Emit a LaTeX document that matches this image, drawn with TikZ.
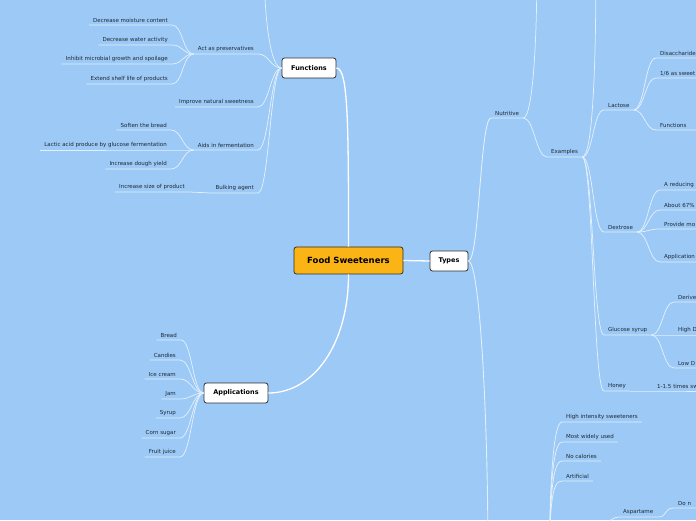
\documentclass[tikz,border=0pt]{standalone}
\usepackage{fontspec}
\setmainfont{DejaVu Sans}
\definecolor{Sky}{HTML}{9CC9F5}
\definecolor{Twig}{HTML}{E2EFFC}
\definecolor{Ink}{HTML}{1E2834}
\definecolor{Edge}{HTML}{2E2E2E}
\definecolor{Gold}{HTML}{FBB416}

\begin{document}
\begin{tikzpicture}[x=1pt,y=1pt,
  topic/.style={draw=Edge,line width=.8pt,fill=white,rounded corners=2.5pt,
    font=\fontsize{6.5}{8}\selectfont\bfseries,text=black,inner sep=0pt,minimum height=20pt},
  leaf/.style={font=\fontsize{5.5}{6.5}\selectfont,text=Ink,inner xsep=4pt,inner ysep=2pt},
  cut/.style={text width=60pt,align=left},
  trunk/.style={draw=white,line width=1.3pt},
  twig/.style={draw=Twig,line width=.75pt},
  toright/.style={out=0,in=180,out distance=11pt,in distance=11pt},
  toleft/.style={out=180,in=0,out distance=11pt,in distance=11pt}]
  \clip (0,0) rectangle (696,520);
  \fill[Sky] (0,0) rectangle (696,520);

  % Central topic and main branches.
  \node[topic,fill=Gold,minimum width=109pt,minimum height=27pt,
    font=\fontsize{8.5}{10}\selectfont\bfseries] (root) at (348.5,259.5) {Food Sweeteners};
  \node[topic,minimum width=38pt] (types) at (449,259) {Types};
  \node[topic,minimum width=54pt] (funcs) at (309,452) {Functions};
  \node[topic,minimum width=64pt] (apps) at (236,127) {Applications};
  \draw[trunk] (root.east) -- (types.west);
  \draw[trunk] (root.north) to[out=90,in=0,out distance=120pt,in distance=12pt] (funcs.east);
  \draw[trunk] (root.south) to[out=270,in=0,out distance=70pt,in distance=45pt] (apps.east);

  % Functions.
  \node[leaf,anchor=south east] (pres) at (258,466) {Act as preservatives};
  \node[leaf,anchor=south east] (moist) at (172,495) {Decrease moisture content};
  \node[leaf,anchor=south east] (water) at (172,475) {Decrease water activity};
  \node[leaf,anchor=south east] (microb) at (172,456) {Inhibit microbial growth and spoilage};
  \node[leaf,anchor=south east] (shelf) at (172,436) {Extend shelf life of products};
  \node[leaf,anchor=south east] (natsw) at (258,413) {Improve natural sweetness};
  \node[leaf,anchor=south east] (ferm) at (258,370) {Aids in fermentation};
  \node[leaf,anchor=south east] (soften) at (171,390) {Soften the bread};
  \node[leaf,anchor=south east] (lactic) at (171,370) {Lactic acid produce by glucose fermentation};
  \node[leaf,anchor=south east] (dough) at (171,351) {Increase dough yield};
  \node[leaf,anchor=south east] (bulk) at (258,327) {Bulking agent};
  \node[leaf,anchor=south east] (size) at (189,328) {Increase size of product};
  \coordinate (funcsup) at (264,560);
  \draw[twig] (funcs.west) to[out=180,in=270,out distance=11pt,in distance=60pt] (funcsup);
  \draw[twig] (funcs.west) to[toleft] (pres.south east) -- (pres.south west);
  \draw[twig] (funcs.west) to[toleft] (natsw.south east) -- (natsw.south west);
  \draw[twig] (funcs.west) to[toleft] (ferm.south east) -- (ferm.south west);
  \draw[twig] (funcs.west) to[toleft] (bulk.south east) -- (bulk.south west);
  \draw[twig] (pres.south west) to[toleft] (moist.south east) -- (moist.south west);
  \draw[twig] (pres.south west) to[toleft] (water.south east) -- (water.south west);
  \draw[twig] (pres.south west) to[toleft] (microb.south east) -- (microb.south west);
  \draw[twig] (pres.south west) to[toleft] (shelf.south east) -- (shelf.south west);
  \draw[twig] (ferm.south west) to[toleft] (soften.south east) -- (soften.south west);
  \draw[twig] (ferm.south west) to[toleft] (lactic.south east) -- (lactic.south west);
  \draw[twig] (ferm.south west) to[toleft] (dough.south east) -- (dough.south west);
  \draw[twig] (bulk.south west) to[toleft] (size.south east) -- (size.south west);

  % Applications.
  \node[leaf,anchor=south east] (bread) at (181,180) {Bread};
  \node[leaf,anchor=south east] (candy) at (180,160) {Candies};
  \node[leaf,anchor=south east] (icecr) at (180,141) {Ice cream};
  \node[leaf,anchor=south east] (jam) at (180,121) {Jam};
  \node[leaf,anchor=south east] (syrup) at (180,102) {Syrup};
  \node[leaf,anchor=south east] (corn) at (180,82) {Corn sugar};
  \node[leaf,anchor=south east] (juice) at (180,63) {Fruit juice};
  \draw[twig] (apps.west) to[toleft] (bread.south east) -- (bread.south west);
  \draw[twig] (apps.west) to[toleft] (candy.south east) -- (candy.south west);
  \draw[twig] (apps.west) to[toleft] (icecr.south east) -- (icecr.south west);
  \draw[twig] (apps.west) to[toleft] (jam.south east) -- (jam.south west);
  \draw[twig] (apps.west) to[toleft] (syrup.south east) -- (syrup.south west);
  \draw[twig] (apps.west) to[toleft] (corn.south east) -- (corn.south west);
  \draw[twig] (apps.west) to[toleft] (juice.south east) -- (juice.south west);

  % Types: nutritive side.
  \node[leaf,anchor=south west] (nutri) at (491,402) {Nutritive};
  \node[leaf,anchor=south west] (exam) at (547,363) {Examples};
  \node[leaf,anchor=south west] (lact) at (604,410) {Lactose};
  \node[leaf,anchor=south west] (dext) at (604,288) {Dextrose};
  \node[leaf,anchor=south west] (gluc) at (604,185) {Glucose syrup};
  \node[leaf,anchor=south west] (honey) at (604,129) {Honey};
  \node[leaf,cut,anchor=south west] (disac) at (656,462) {Disaccharide};
  \node[leaf,cut,anchor=south west] (sixth) at (656,442) {1/6 as sweet};
  \node[leaf,cut,anchor=south west] (lfunc) at (656,390) {Functions};
  \node[leaf,cut,anchor=south west] (reduc) at (660,330) {A reducing};
  \node[leaf,cut,anchor=south west] (about) at (660,310) {About 67\%};
  \node[leaf,cut,anchor=south west] (provi) at (660,291) {Provide mo};
  \node[leaf,cut,anchor=south west] (appli) at (660,258) {Application};
  \node[leaf,cut,anchor=south west] (deriv) at (674,218) {Derive};
  \node[leaf,cut,anchor=south west] (highd) at (674,185) {High D};
  \node[leaf,cut,anchor=south west] (lowd) at (674,152) {Low D};
  \node[leaf,cut,anchor=south west] (times) at (653,129) {1-1.5 times sw};
  \coordinate (nutriup) at (537,560);
  \coordinate (examup) at (596,560);
  \coordinate (typesdn) at (488,-40);
  \draw[twig,line width=.9pt] (types.east) to[toright] (nutri.south west) -- (nutri.south east);
  \draw[twig,line width=.9pt] (types.east) to[out=0,in=90,out distance=11pt,in distance=150pt] (typesdn);
  \draw[twig] (nutri.south east) to[out=0,in=270,out distance=8pt,in distance=100pt] (nutriup);
  \draw[twig] (nutri.south east) to[toright] (exam.south west) -- (exam.south east);
  \draw[twig] (exam.south east) to[out=0,in=270,out distance=11pt,in distance=100pt] (examup);
  \draw[twig] (exam.south east) to[toright] (lact.south west) -- (lact.south east);
  \draw[twig] (exam.south east) to[toright] (dext.south west) -- (dext.south east);
  \draw[twig] (exam.south east) to[toright] (gluc.south west) -- (gluc.south east);
  \draw[twig] (exam.south east) to[toright] (honey.south west) -- (honey.south east);
  \draw[twig] (lact.south east) to[toright] (disac.south west) -- (disac.south east);
  \draw[twig] (lact.south east) to[toright] (sixth.south west) -- (sixth.south east);
  \draw[twig] (lact.south east) to[toright] (lfunc.south west) -- (lfunc.south east);
  \draw[twig] (dext.south east) to[toright] (reduc.south west) -- (reduc.south east);
  \draw[twig] (dext.south east) to[toright] (about.south west) -- (about.south east);
  \draw[twig] (dext.south east) to[toright] (provi.south west) -- (provi.south east);
  \draw[twig] (dext.south east) to[toright] (appli.south west) -- (appli.south east);
  \draw[twig] (gluc.south east) to[toright] (deriv.south west) -- (deriv.south east);
  \draw[twig] (gluc.south east) to[toright] (highd.south west) -- (highd.south east);
  \draw[twig] (gluc.south east) to[toright] (lowd.south west) -- (lowd.south east);
  \draw[twig] (honey.south east) to[toright] (times.south west) -- (times.south east);

  % Lower branch, mostly below the frame.
  \node[leaf,anchor=south west] (highi) at (562,98) {High intensity sweeteners};
  \node[leaf,anchor=south west] (widely) at (562,78) {Most widely used};
  \node[leaf,anchor=south west] (nocal) at (562,59) {No calories};
  \node[leaf,anchor=south west] (artif) at (562,39) {Artificial};
  \node[leaf,anchor=south west] (aspar) at (619,3) {Aspartame};
  \node[leaf,cut,anchor=south west] (donot) at (674,12) {Do n};
  \coordinate (lowjoin) at (549,-80);
  \coordinate (asparjoin) at (598,-25);
  \draw[twig] (lowjoin) to[out=90,in=180,out distance=100pt,in distance=10pt] (highi.south west) -- (highi.south east);
  \draw[twig] (lowjoin) to[out=90,in=180,out distance=100pt,in distance=10pt] (widely.south west) -- (widely.south east);
  \draw[twig] (lowjoin) to[out=90,in=180,out distance=100pt,in distance=10pt] (nocal.south west) -- (nocal.south east);
  \draw[twig] (lowjoin) to[out=90,in=180,out distance=100pt,in distance=10pt] (artif.south west) -- (artif.south east);
  \draw[twig] (asparjoin) to[out=90,in=180,out distance=11pt,in distance=11pt] (aspar.south west) -- (aspar.south east);
  \draw[twig] (aspar.south east) to[toright] (donot.south west) -- (donot.south east);
\end{tikzpicture}
\end{document}
